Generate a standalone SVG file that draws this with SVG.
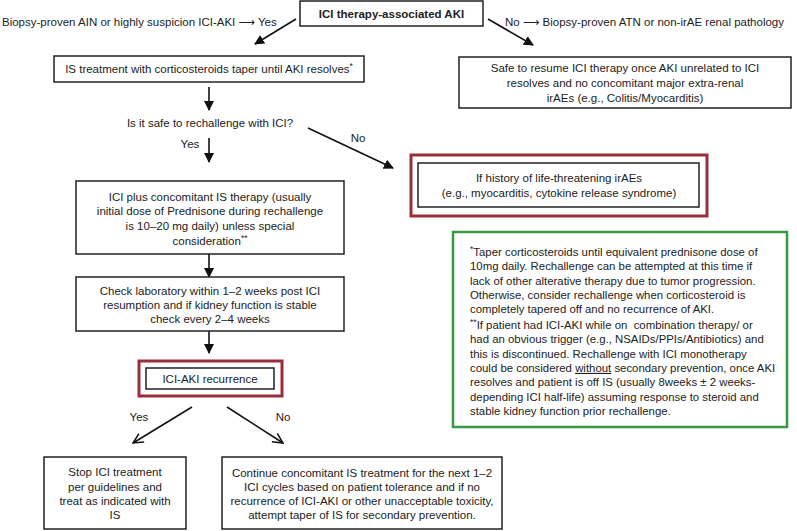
<svg xmlns="http://www.w3.org/2000/svg" width="797" height="531" viewBox="0 0 797 531">
<defs>
<style>
text{font-family:"Liberation Sans",Arial,"DejaVu Sans",sans-serif;font-size:11.5px;fill:#222}
.c{text-anchor:middle}
.g{font-size:11.4px}
.b{font-weight:bold}
.box{fill:#fff;stroke:#222;stroke-width:1.5}
.red{fill:#fff;stroke:#9b2c3a;stroke-width:3}
.grn{fill:#fff;stroke:#3a9a44;stroke-width:2.5}
.ln{stroke:#111;stroke-width:1.6;fill:none}
.sup{font-size:8.5px}
.pre{white-space:pre}
</style>
<marker id="ah" viewBox="0 0 10 10" refX="9" refY="5" markerWidth="10" markerHeight="10" markerUnits="userSpaceOnUse" orient="auto">
<path d="M0,0 L10,5 L0,10 z" fill="#111"/>
</marker>
<marker id="ao" viewBox="0 0 12 12" refX="11" refY="6" markerWidth="12" markerHeight="12" markerUnits="userSpaceOnUse" orient="auto">
<path d="M1,1 L11,6 L1,11" fill="none" stroke="#111" stroke-width="1.5"/>
</marker>
</defs>
<rect width="797" height="531" fill="#fff"/>

<g id="connectors">
<line class="ln" x1="296" y1="19" x2="255" y2="44" marker-end="url(#ah)"/>
<line class="ln" x1="488" y1="19" x2="533" y2="45" marker-end="url(#ah)"/>
<line class="ln" x1="209" y1="87" x2="209" y2="110" marker-end="url(#ah)"/>
<line class="ln" x1="209" y1="138" x2="209" y2="162" marker-end="url(#ah)"/>
<line class="ln" x1="308" y1="128" x2="393" y2="168" marker-end="url(#ah)"/>
<line class="ln" x1="209" y1="254" x2="209" y2="277" marker-end="url(#ah)"/>
<line class="ln" x1="209" y1="331" x2="209" y2="353" marker-end="url(#ah)"/>
<line class="ln" x1="192" y1="407" x2="133" y2="443" marker-end="url(#ao)"/>
<line class="ln" x1="227" y1="407" x2="283" y2="443" marker-end="url(#ao)"/>
<text x="2" y="26">Biopsy-proven AIN or highly suspicion ICI-AKI <tspan font-family="DejaVu Sans">⟶</tspan> Yes</text>
<text x="505" y="26">No <tspan font-family="DejaVu Sans">⟶</tspan> Biopsy-proven ATN or non-irAE renal pathology</text>
<text x="190" y="148" class="c">Yes</text>
<text x="358" y="142" class="c">No</text>
<text x="139" y="421" class="c">Yes</text>
<text x="283" y="421" class="c">No</text>
</g>

<g id="n-start">
<rect class="box" x="300" y="1" width="183" height="25"/>
<text x="391.5" y="18" class="c b">ICI therapy-associated AKI</text>
</g>

<g id="n-is">
<rect class="box" x="54" y="56" width="310" height="26"/>
<text x="209" y="73" class="c">IS treatment with corticosteroids taper until AKI resolves<tspan class="sup" dy="-4">*</tspan></text>
</g>

<g id="n-safe">
<rect class="box" x="459" y="57" width="332" height="51"/>
<text x="625" y="72" class="c">Safe to resume ICI therapy once AKI unrelated to ICI</text>
<text x="625" y="87" class="c">resolves and no concomitant major extra-renal</text>
<text x="625" y="102" class="c">irAEs (e.g., Colitis/Myocarditis)</text>
</g>

<g id="n-question">
<text x="210" y="127" class="c">Is it safe to rechallenge with ICI?</text>
</g>

<g id="n-history">
<rect class="red" x="411" y="155" width="296" height="61"/>
<rect class="box" x="418" y="163" width="281" height="44"/>
<text x="559" y="182" class="c">If history of life-threatening irAEs</text>
<text x="559" y="197" class="c">(e.g., myocarditis, cytokine release syndrome)</text>
</g>

<g id="n-iciplus">
<rect class="box" x="76" y="181" width="268" height="73"/>
<text x="210" y="201" class="c">ICI plus concomitant IS therapy (usually</text>
<text x="210" y="215" class="c">initial dose of Prednisone during rechallenge</text>
<text x="210" y="229.5" class="c">is 10–20 mg daily) unless special</text>
<text x="210" y="245" class="c">consideration<tspan class="sup" dy="-4">**</tspan></text>
</g>

<g id="n-check">
<rect class="box" x="76" y="277" width="268" height="54"/>
<text x="210" y="295" class="c">Check laboratory within 1–2 weeks post ICI</text>
<text x="210" y="309" class="c">resumption and if kidney function is stable</text>
<text x="210" y="323" class="c">check every 2–4 weeks</text>
</g>

<g id="n-recur">
<rect class="red" x="139" y="361" width="143" height="35"/>
<rect class="box" x="146" y="368" width="128" height="21"/>
<text x="210" y="383" class="c">ICI-AKI recurrence</text>
</g>

<g id="n-stop">
<rect class="box" x="44" y="457" width="142" height="72"/>
<text x="115" y="476" class="c">Stop ICI treatment</text>
<text x="115" y="490.5" class="c">per guidelines and</text>
<text x="115" y="505" class="c">treat as indicated with</text>
<text x="115" y="519" class="c">IS</text>
</g>

<g id="n-continue">
<rect class="box" x="222" y="457" width="280" height="72"/>
<text x="362" y="477" class="c">Continue concomitant IS treatment for the next 1–2</text>
<text x="362" y="491" class="c">ICI cycles based on patient tolerance and if no</text>
<text x="362" y="505" class="c">recurrence of ICI-AKI or other unacceptable toxicity,</text>
<text x="362" y="519" class="c">attempt taper of IS for secondary prevention.</text>
</g>

<g id="n-notes">
<rect class="grn" x="453" y="232" width="334" height="195"/>
<text class="g" x="470" y="256"><tspan class="sup" dy="-4">*</tspan><tspan dy="4">Taper corticosteroids until equivalent prednisone dose of</tspan></text>
<text class="g" x="470" y="270.3">10mg daily. Rechallenge can be attempted at this time if</text>
<text class="g" x="470" y="284.6">lack of other alterative therapy due to tumor progression.</text>
<text class="g" x="470" y="298.9">Otherwise, consider rechallenge when corticosteroid is</text>
<text class="g" x="470" y="313.2">completely tapered off and no recurrence of AKI.</text>
<text class="g pre" x="470" y="329"><tspan class="sup" dy="-4">**</tspan><tspan dy="4">If patient had ICI-AKI while on  combination therapy/ or</tspan></text>
<text class="g" x="470" y="343.3">had an obvious trigger (e.g., NSAIDs/PPIs/Antibiotics) and</text>
<text class="g" x="470" y="357.6">this is discontinued. Rechallenge with ICI monotherapy</text>
<text class="g" x="470" y="371.9">could be considered <tspan text-decoration="underline">without</tspan> secondary prevention, once AKI</text>
<text class="g" x="470" y="386.2">resolves and patient is off IS (usually 8weeks ± 2 weeks-</text>
<text class="g" x="470" y="400.5">depending ICI half-life) assuming response to steroid and</text>
<text class="g" x="470" y="414.8">stable kidney function prior rechallenge.</text>
</g>
</svg>
